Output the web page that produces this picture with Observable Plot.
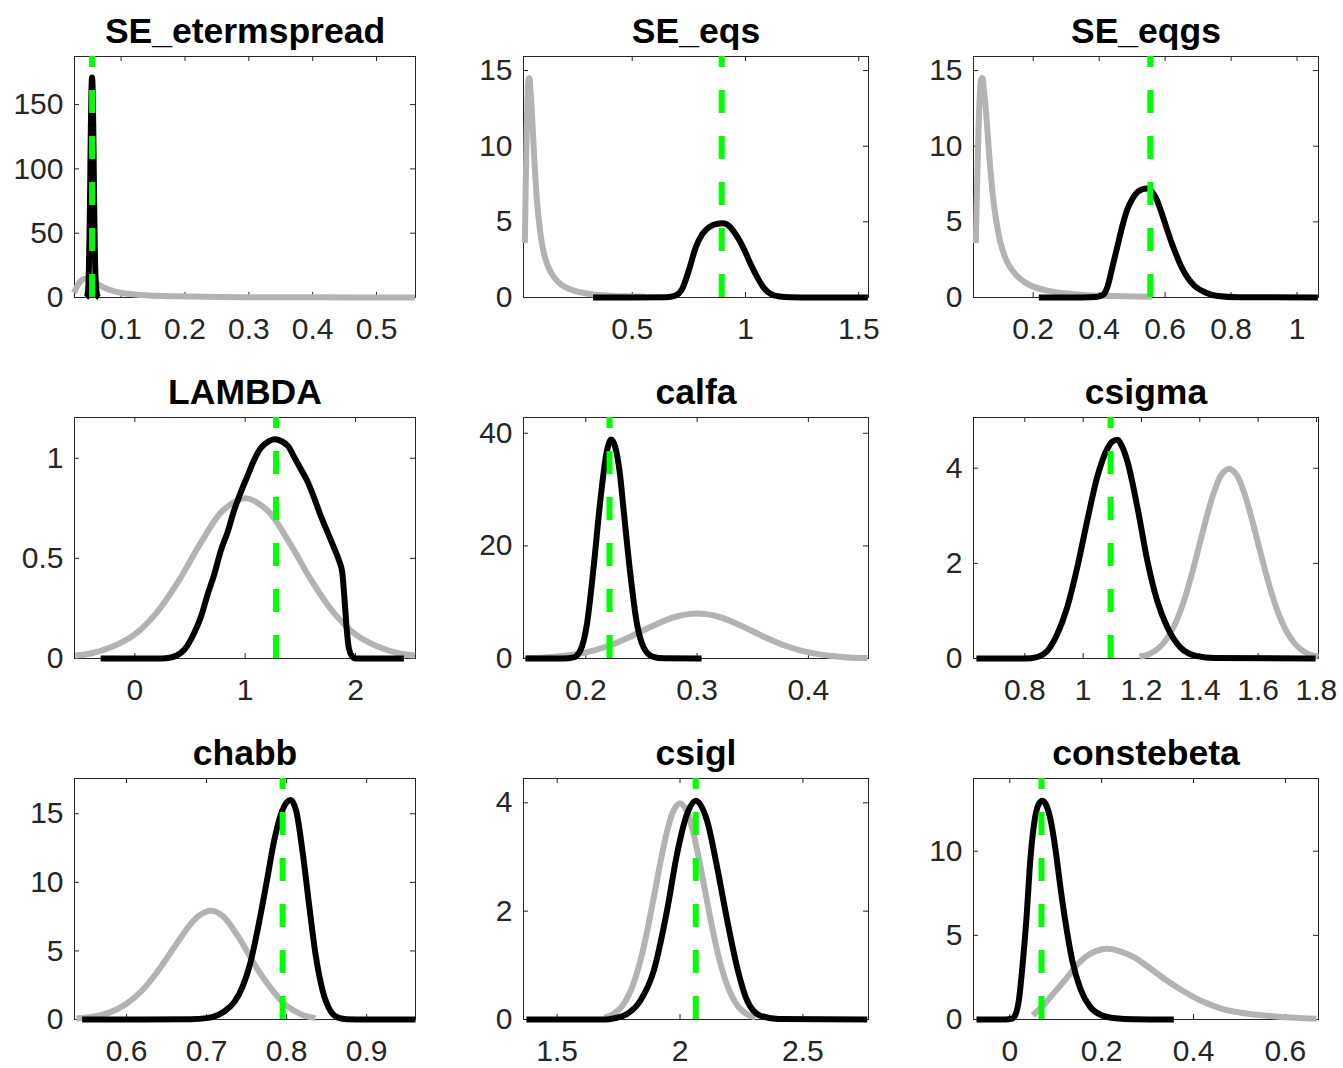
<!DOCTYPE html>
<html>
<head>
<meta charset="utf-8">
<script src="https://cdn.jsdelivr.net/npm/d3@7"></script>
<script src="https://cdn.jsdelivr.net/npm/@observablehq/plot@0.6"></script>
<style>
  html, body { margin: 0; padding: 0; background: #ffffff; }
  #fig { position: relative; width: 1343px; height: 1068px; background: #ffffff; overflow: hidden; }
  #fig svg { position: absolute; }
</style>
</head>
<body>
<div id="fig"></div>
<script>
// ---------- panel titles, ticks, limits, modes ----------
const panelTitles = ["SE_etermspread", "SE_eqs", "SE_eqgs", "LAMBDA", "calfa", "csigma", "chabb", "csigl", "constebeta"];
const xTickValues = [
  [0.1, 0.2, 0.3, 0.4, 0.5],
  [0.5, 1, 1.5],
  [0.2, 0.4, 0.6, 0.8, 1],
  [0, 1, 2],
  [0.2, 0.3, 0.4],
  [0.8, 1, 1.2, 1.4, 1.6, 1.8],
  [0.6, 0.7, 0.8, 0.9],
  [1.5, 2, 2.5],
  [0, 0.2, 0.4, 0.6]
];
const yTickValues = [
  [0, 50, 100, 150],
  [0, 5, 10, 15],
  [0, 5, 10, 15],
  [0, 0.5, 1],
  [0, 20, 40],
  [0, 2, 4],
  [0, 5, 10, 15],
  [0, 2, 4],
  [0, 5, 10]
];
const xLimits = [
  [0.027, 0.561], [0.020, 1.543], [0.019, 1.065],
  [-0.547, 2.544], [0.144, 0.454], [0.624, 1.807],
  [0.535, 0.961], [1.363, 2.767], [-0.079, 0.672]
];
const yLimits = [187.4, 15.93, 15.93, 1.2035, 42.8, 5.067, 17.57, 4.449, 14.32];
const modeValues = [0.0546, 0.895, 0.555, 1.28, 0.2213, 1.094, 0.795, 2.064, 0.069];

// ---------- prior densities (grey) ----------
const seIgPriorX = [0.026, 0.03, 0.034, 0.038, 0.042, 0.046, 0.05, 0.055, 0.06, 0.065, 0.07, 0.075, 0.08, 0.09, 0.1, 0.115, 0.13, 0.15, 0.175, 0.2, 0.25, 0.3, 0.35, 0.4, 0.47, 0.56];
const seIgPriorY = [3.6, 7.5, 11.0, 13.3, 14.4, 14.5, 13.8, 12.8, 11.4, 9.9, 8.5, 7.3, 6.3, 4.8, 3.7, 2.65, 2.0, 1.45, 1.0, 0.72, 0.42, 0.26, 0.17, 0.12, 0.08, 0.05];
const lambdaPriorX = [-0.54, -0.4, -0.2, 0, 0.2, 0.4, 0.6, 0.8, 1.0, 1.2, 1.4, 1.6, 1.8, 2.0, 2.2, 2.4, 2.54];
const lambdaPriorY = [0.015, 0.025, 0.06, 0.12, 0.23, 0.39, 0.58, 0.74, 0.80, 0.74, 0.58, 0.39, 0.23, 0.12, 0.06, 0.025, 0.015];
const calfaPriorX = [0.147, 0.17, 0.2, 0.22, 0.24, 0.26, 0.28, 0.3, 0.32, 0.34, 0.36, 0.38, 0.4, 0.43, 0.453];
const calfaPriorY = [0.074, 0.27, 1.08, 2.22, 3.88, 5.79, 7.37, 7.98, 7.37, 5.79, 3.88, 2.22, 1.08, 0.27, 0.074];
const csigmaPriorX = [1.193, 1.225, 1.25, 1.275, 1.3, 1.325, 1.35, 1.375, 1.4, 1.425, 1.45, 1.475, 1.5, 1.525, 1.55, 1.575, 1.6, 1.625, 1.65, 1.675, 1.7, 1.725, 1.75, 1.775, 1.807];
const csigmaPriorY = [0.036, 0.091, 0.175, 0.318, 0.54, 0.864, 1.295, 1.83, 2.42, 3.01, 3.52, 3.87, 3.99, 3.87, 3.52, 3.01, 2.42, 1.83, 1.295, 0.864, 0.54, 0.318, 0.175, 0.091, 0.036];
const chabbPriorX = [0.5375, 0.56, 0.58, 0.60, 0.62, 0.64, 0.66, 0.68, 0.69, 0.705, 0.72, 0.74, 0.76, 0.78, 0.80, 0.82, 0.836];
const chabbPriorY = [0.07, 0.22, 0.54, 1.15, 2.15, 3.6, 5.3, 6.95, 7.55, 7.92, 7.55, 6.0, 4.0, 2.3, 1.0, 0.33, 0.1];
const csiglPriorX = [1.693, 1.725, 1.75, 1.775, 1.8, 1.825, 1.85, 1.875, 1.9, 1.925, 1.95, 1.975, 2.0, 2.025, 2.05, 2.075, 2.1, 2.125, 2.15, 2.175, 2.2, 2.225, 2.25, 2.275, 2.307];
const csiglPriorY = [0.036, 0.091, 0.175, 0.318, 0.54, 0.864, 1.295, 1.83, 2.42, 3.01, 3.52, 3.87, 3.99, 3.87, 3.52, 3.01, 2.42, 1.83, 1.295, 0.864, 0.54, 0.318, 0.175, 0.091, 0.036];
const constebetaPriorX = [0.05, 0.075, 0.1, 0.125, 0.15, 0.175, 0.21, 0.24, 0.27, 0.3, 0.34, 0.38, 0.415, 0.46, 0.5, 0.56, 0.62, 0.6675];
const constebetaPriorY = [0.25, 0.9, 1.7, 2.5, 3.35, 3.9, 4.2, 4.05, 3.7, 3.15, 2.35, 1.65, 1.13, 0.65, 0.42, 0.22, 0.1, 0.05];

// ---------- posterior densities (black) ----------
const etermPostX = [0.0452, 0.047, 0.0485, 0.0495, 0.0505, 0.0515, 0.0525, 0.0535, 0.0545, 0.0555, 0.0565, 0.0575, 0.0585, 0.06, 0.0625, 0.0655];
const etermPostY = [0, 1.5, 7, 22, 48, 85, 128, 160, 171, 160, 128, 85, 48, 15, 2, 0];
const eqsPostX = [0.327, 0.5, 0.65, 0.69, 0.72, 0.75, 0.78, 0.81, 0.84, 0.87, 0.90, 0.93, 0.96, 0.99, 1.02, 1.05, 1.08, 1.11, 1.15, 1.2, 1.3, 1.54];
const eqsPostY = [0, 0, 0.02, 0.12, 0.55, 1.8, 3.3, 4.2, 4.65, 4.85, 4.9, 4.7, 4.1, 3.3, 2.3, 1.4, 0.65, 0.25, 0.07, 0.02, 0, 0];
const eqgsPostX = [0.217, 0.35, 0.39, 0.41, 0.425, 0.44, 0.455, 0.47, 0.485, 0.5, 0.515, 0.53, 0.545, 0.56, 0.575, 0.59, 0.605, 0.62, 0.635, 0.65, 0.67, 0.69, 0.72, 0.76, 0.82, 1.063];
const eqgsPostY = [0, 0, 0.03, 0.15, 0.7, 2.0, 3.35, 4.7, 5.8, 6.5, 6.95, 7.15, 7.2, 7.0, 6.45, 5.55, 4.55, 3.6, 2.75, 2.0, 1.25, 0.75, 0.35, 0.1, 0.02, 0];
const lambdaPostX = [-0.31, 0.2, 0.3, 0.38, 0.45, 0.54, 0.6, 0.66, 0.72, 0.78, 0.84, 0.9, 0.96, 1.02, 1.08, 1.14, 1.2, 1.27, 1.33, 1.39, 1.45, 1.5, 1.56, 1.62, 1.68, 1.74, 1.8, 1.85, 1.88, 1.9, 1.92, 1.94, 1.97, 2.0, 2.44];
const lambdaPostY = [0, 0, 0.003, 0.015, 0.045, 0.13, 0.21, 0.32, 0.42, 0.54, 0.63, 0.74, 0.83, 0.91, 0.99, 1.05, 1.08, 1.095, 1.085, 1.06, 1.0, 0.95, 0.89, 0.81, 0.72, 0.64, 0.56, 0.49, 0.43, 0.3, 0.15, 0.05, 0.01, 0, 0];
const calfaPostX = [0.1457, 0.18, 0.189, 0.195, 0.201, 0.207, 0.213, 0.219, 0.2228, 0.2265, 0.2305, 0.234, 0.24, 0.246, 0.252, 0.26, 0.27, 0.304];
const calfaPostY = [0, 0, 0.2, 1.4, 6.1, 16.2, 28.0, 36.9, 38.9, 37.5, 33.0, 26.3, 15.0, 6.1, 1.96, 0.35, 0.03, 0];
const csigmaPostX = [0.634, 0.8, 0.842, 0.877, 0.911, 0.945, 0.98, 1.014, 1.048, 1.083, 1.1, 1.117, 1.134, 1.151, 1.186, 1.22, 1.254, 1.289, 1.334, 1.391, 1.45, 1.797];
const csigmaPostY = [0, 0, 0.03, 0.16, 0.51, 1.07, 1.92, 2.9, 3.81, 4.41, 4.56, 4.6, 4.45, 4.16, 3.18, 2.06, 1.21, 0.65, 0.23, 0.05, 0.01, 0];
const chabbPostX = [0.5446, 0.62, 0.68, 0.70, 0.715, 0.7225, 0.735, 0.745, 0.755, 0.765, 0.775, 0.785, 0.795, 0.805, 0.812, 0.82, 0.828, 0.836, 0.845, 0.855, 0.865, 0.875, 0.9, 0.961];
const chabbPostY = [0, 0, 0.02, 0.1, 0.35, 0.6, 1.3, 2.4, 4.2, 6.9, 10.0, 13.2, 15.3, 16.0, 15.2, 12.2, 8.4, 4.8, 2.1, 0.6, 0.12, 0.02, 0, 0];
const csiglPostX = [1.375, 1.7, 1.73, 1.784, 1.839, 1.893, 1.947, 1.988, 2.029, 2.064, 2.11, 2.151, 2.192, 2.232, 2.273, 2.327, 2.4, 2.762];
const csiglPostY = [0, 0, 0.02, 0.1, 0.35, 0.9, 2.01, 3.06, 3.8, 4.04, 3.67, 2.81, 1.83, 0.97, 0.35, 0.07, 0.01, 0];
const constebetaPostX = [-0.0725, -0.01, 0.005, 0.0125, 0.02, 0.028, 0.036, 0.045, 0.055, 0.063, 0.071, 0.08, 0.09, 0.1, 0.11, 0.12, 0.136, 0.154, 0.175, 0.2, 0.23, 0.27, 0.357];
const constebetaPostY = [0, 0, 0.05, 0.3, 1.2, 3.3, 5.9, 9.6, 12.0, 12.8, 13.0, 12.7, 11.7, 10.0, 7.9, 6.0, 3.5, 1.8, 0.75, 0.25, 0.07, 0.01, 0];

const priorXs = [seIgPriorX, seIgPriorX, seIgPriorX, lambdaPriorX, calfaPriorX, csigmaPriorX, chabbPriorX, csiglPriorX, constebetaPriorX];
const priorYs = [seIgPriorY, seIgPriorY, seIgPriorY, lambdaPriorY, calfaPriorY, csigmaPriorY, chabbPriorY, csiglPriorY, constebetaPriorY];
const postXs = [etermPostX, eqsPostX, eqgsPostX, lambdaPostX, calfaPostX, csigmaPostX, chabbPostX, csiglPostX, constebetaPostX];
const postYs = [etermPostY, eqsPostY, eqgsPostY, lambdaPostY, calfaPostY, csigmaPostY, chabbPostY, csiglPostY, constebetaPostY];

// ---------- layout ----------
const boxLeft = [74, 523, 973];
const boxWidth = [341, 345, 345];
const boxTop = [56, 417, 778];
const boxHeight = 241;
const mL = 74, mR = 25, mT = 56, mB = 48;
const axisColor = "#262626";
const tickLen = 5;
const fontFamily = '"Liberation Sans", Arial, Helvetica, sans-serif';

const fig = document.getElementById("fig");

for (let i = 0; i < 9; i++) {
  const r = Math.floor(i / 3), c = i % 3;
  const W = boxWidth[c], H = boxHeight;
  const prior = priorXs[i].map((x, j) => ({x, y: priorYs[i][j]}));
  const post = postXs[i].map((x, j) => ({x, y: postYs[i][j]}));
  const fmt = d => String(d);

  const svg = Plot.plot({
    width: mL + W + mR,
    height: mT + H + mB,
    marginLeft: mL, marginRight: mR, marginTop: mT, marginBottom: mB,
    style: {fontFamily, fontSize: "30px", color: axisColor, background: "transparent", overflow: "visible"},
    x: {domain: xLimits[i], ticks: xTickValues[i], tickFormat: fmt, tickSize: 0, tickPadding: 20, label: null},
    y: {domain: [0, yLimits[i]], ticks: yTickValues[i], tickFormat: fmt, tickSize: 0, tickPadding: 11, label: null},
    marks: [
      Plot.frame({stroke: axisColor, strokeWidth: 1}),
      // inward ticks on all four sides
      Plot.tickX(xTickValues[i], {x: d => d, stroke: axisColor, strokeWidth: 1, insetTop: H - tickLen}),
      Plot.tickX(xTickValues[i], {x: d => d, stroke: axisColor, strokeWidth: 1, insetBottom: H - tickLen}),
      Plot.tickY(yTickValues[i], {y: d => d, stroke: axisColor, strokeWidth: 1, insetRight: W - tickLen}),
      Plot.tickY(yTickValues[i], {y: d => d, stroke: axisColor, strokeWidth: 1, insetLeft: W - tickLen}),
      Plot.line(prior, {x: "x", y: "y", stroke: "#b3b3b3", strokeWidth: 6, curve: "catmull-rom", strokeLinejoin: "round", strokeLinecap: "butt"}),
      Plot.line(post, {x: "x", y: "y", stroke: "#000000", strokeWidth: 6, curve: "monotone-x", strokeLinejoin: "round", strokeLinecap: "butt"}),
      Plot.ruleX([modeValues[i]], {x: d => d, y1: 0, y2: yLimits[i], stroke: "#00ff00", strokeWidth: 6, strokeDasharray: "23,23"}),
      Plot.text([panelTitles[i]], {text: d => d, frameAnchor: "top", dy: -14, lineAnchor: "bottom", fontSize: 35.5, fontWeight: "bold", fill: "#000000"})
    ]
  });
  svg.style.left = (boxLeft[c] - mL) + "px";
  svg.style.top = (boxTop[r] - mT) + "px";
  fig.appendChild(svg);
}
</script>
</body>
</html>
